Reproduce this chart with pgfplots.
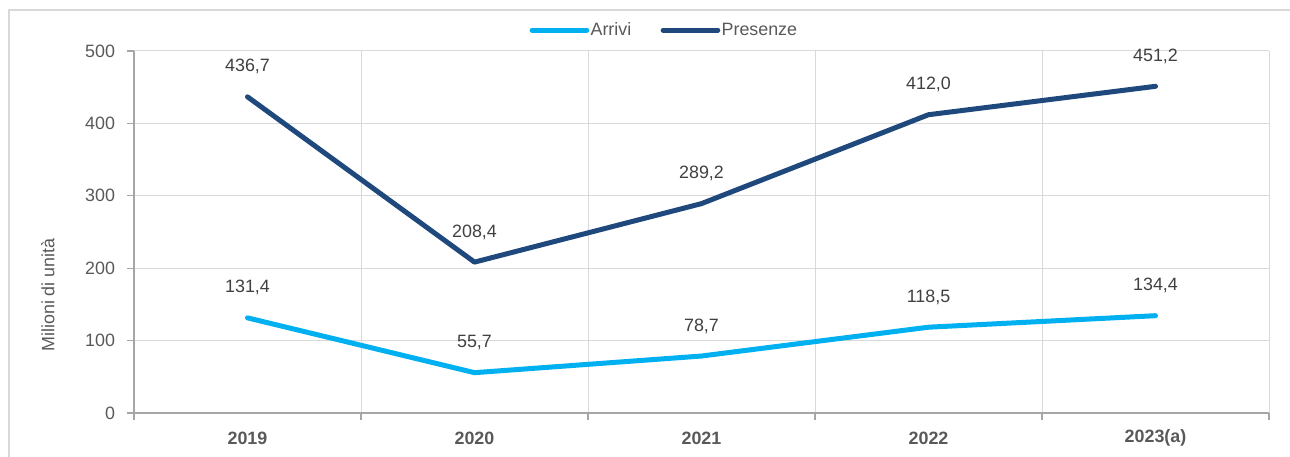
\documentclass[border=0pt]{standalone}
\usepackage{pgfplots}
\pgfplotsset{compat=1.18}
\usepackage{fontspec}
\setmainfont{Liberation Sans}
\definecolor{arr}{HTML}{00B0F0}
\definecolor{pres}{HTML}{1F497D}
\definecolor{txt}{HTML}{595959}
\definecolor{lbl}{HTML}{404040}
\definecolor{gridc}{HTML}{D9D9D9}
\definecolor{axc}{HTML}{A6A6A6}
\begin{document}
\begin{tikzpicture}[font=\fontsize{13.4}{16}\selectfont]
\useasboundingbox (0pt,0pt) rectangle (967.5pt,342.75pt);
\draw[gridc, line width=0.9pt] (6.75pt,-2pt) -- (6.75pt,335.25pt) -- (970pt,335.25pt);
\begin{axis}[
  width=851.25pt, height=271.5pt, scale only axis,
  at={(100.5pt,33pt)}, anchor=south west,
  xmin=-0.5, xmax=4.5, ymin=0, ymax=500,
  axis x line=bottom, axis y line=left,
  x axis line style={-, axc, line width=1.2pt},
  y axis line style={-, axc, line width=1.2pt},
  xtick={-0.5,0.5,1.5,2.5,3.5,4.5}, xticklabels={},
  extra x ticks={0,1,2,3,4},
  extra x tick labels={2019,2020,2021,2022,2023(a)},
  extra x tick style={major tick length=0pt, grid=none},
  ytick={0,100,...,500},
  tick align=outside, major tick length=5.25pt,
  tick style={axc, line width=0.9pt},
  xmajorgrids, ymajorgrids,
  major grid style={gridc, line width=0.75pt},
  ticklabel style={text=txt},
  xticklabel style={font=\fontsize{13.4}{16}\selectfont\bfseries, anchor=center, yshift=-19pt},
  yticklabel style={xshift=-5.5pt},
  /pgf/number format/assume math mode=true,
  ylabel={Milioni di unità},
  ylabel style={at={(axis description cs:-0.0758,0.326)}, anchor=center, text=txt},
  legend style={at={(0.467,1.058)}, anchor=center, draw=none, fill=none,
    legend columns=2, text=txt,
    /tikz/every even column/.append style={column sep=21pt},
    nodes={inner xsep=1pt}},
  legend cell align=left,
  legend image code/.code={\draw[#1, line cap=round] (0pt,0pt) -- (41pt,0pt);},
  every node near coord/.append style={anchor=center, yshift=22.5pt, text=lbl},
  nodes near coords={\pgfmathprintnumber[fixed,fixed zerofill,precision=1,use comma,assume math mode=true]{\pgfplotspointmeta}},
  clip=false,
]
\addplot[arr, line width=3.75pt, line cap=round, line join=round] coordinates {(0,131.4)(1,55.7)(2,78.7)(3,118.5)(4,134.4)};
\addlegendentry{Arrivi}
\addplot[pres, line width=3.75pt, line cap=round, line join=round] coordinates {(0,436.7)(1,208.4)(2,289.2)(3,412.0)(4,451.2)};
\addlegendentry{Presenze}
\end{axis}
\end{tikzpicture}
\end{document}
